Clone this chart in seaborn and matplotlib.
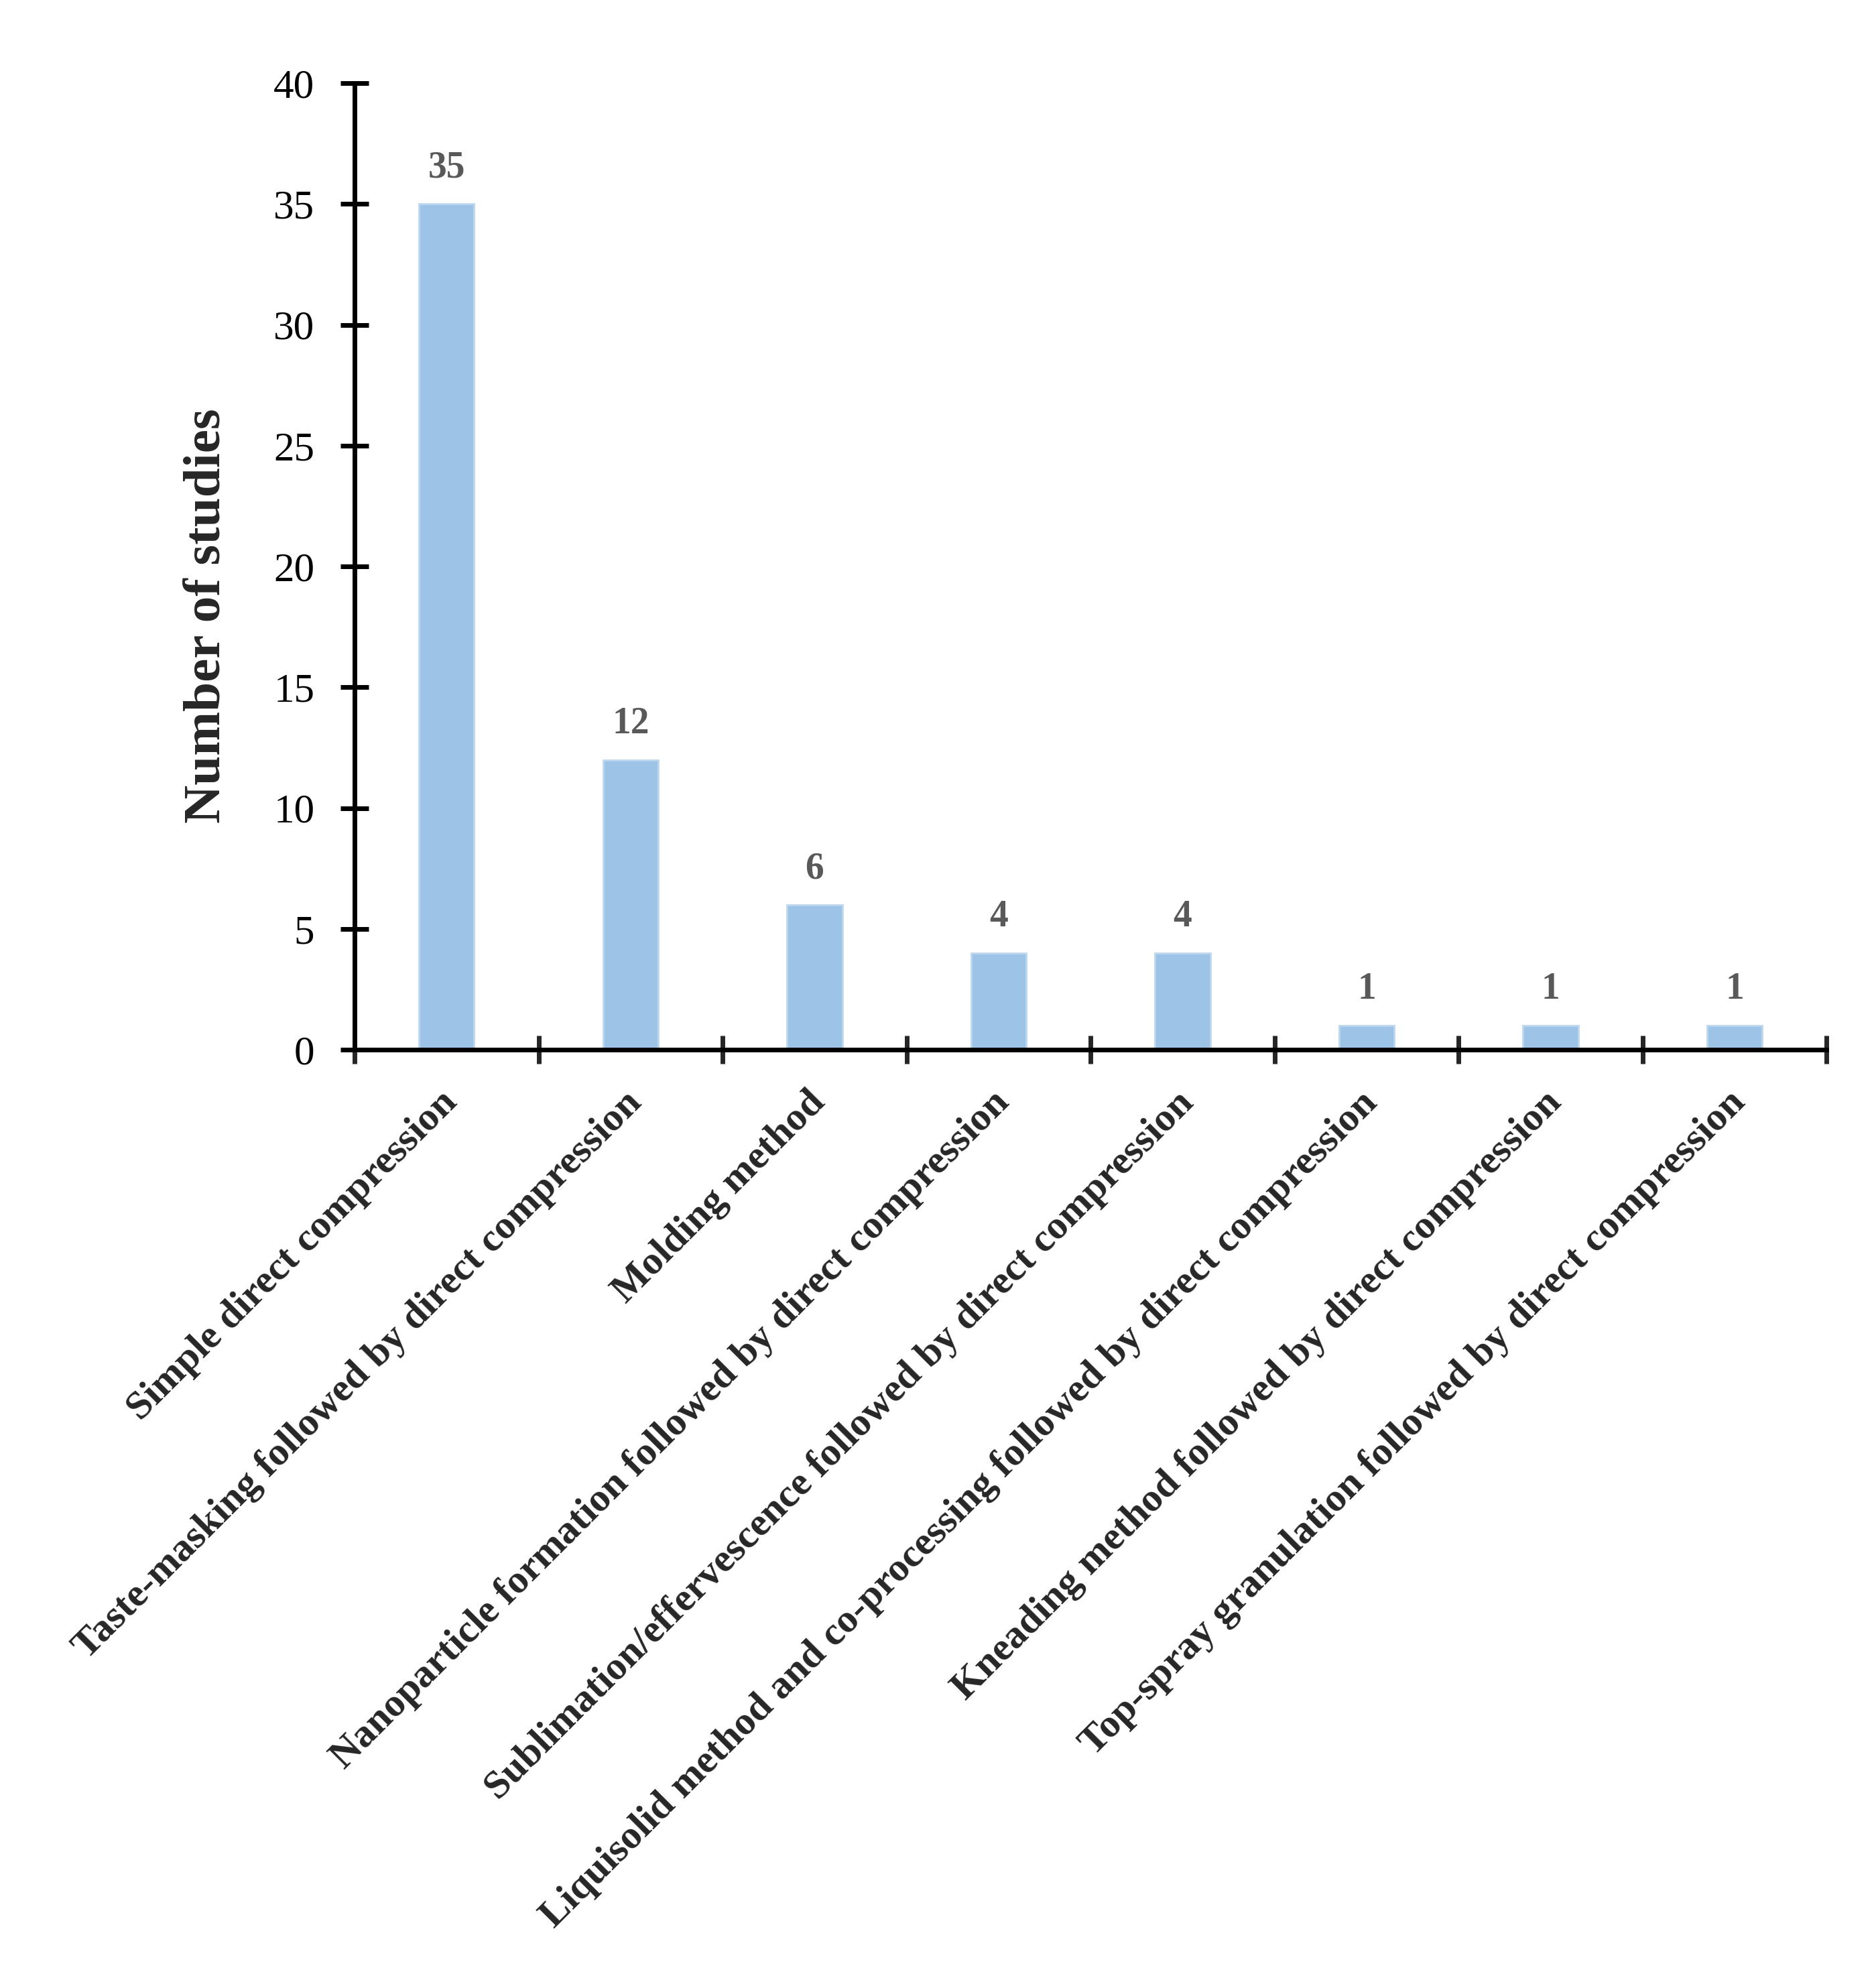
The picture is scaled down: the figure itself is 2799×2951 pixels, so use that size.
import numpy as np
import matplotlib
matplotlib.use("Agg")
import matplotlib.pyplot as plt
import matplotlib.transforms as mtransforms
import seaborn as sns

# data
methods = [
    "Simple direct compression",
    "Taste-masking followed by direct compression",
    "Molding method",
    "Nanoparticle formation followed by direct compression",
    "Sublimation/effervescence followed by direct compression",
    "Liquisolid method and co-processing followed by direct compression",
    "Kneading method followed by direct compression",
    "Top-spray granulation followed by direct compression",
]
n_studies = [35, 12, 6, 4, 4, 1, 1, 1]
y_ticks = [0, 5, 10, 15, 20, 25, 30, 35, 40]

sns.set_style("white")
plt.rcParams['font.family'] = ['Liberation Serif', 'DejaVu Serif']

fig = plt.figure(figsize=(27.99, 29.51), dpi=100)
ax = fig.add_axes([0.189, 0.4693, 0.7847, 0.4886])

sns.barplot(x=methods, y=n_studies, color="#9DC3E6", saturation=1,
            width=0.30, edgecolor="#BDD7EE", linewidth=2, ax=ax)

ax.set_xlim(-0.5, len(methods) - 0.5)
ax.set_ylim(0, 40)
ax.set_yticks(y_ticks)

# value labels above bars
ax.bar_label(ax.containers[0], padding=20, fontsize=40, color="#595959",
             fontweight="bold")

for side in ["top", "right"]:
    ax.spines[side].set_visible(False)
for side in ["left", "bottom"]:
    ax.spines[side].set_linewidth(5)
    ax.spines[side].set_color("black")

ax.tick_params(axis="y", which="major", left=True, direction="inout", length=30,
               width=5, labelsize=44, pad=28, colors="black")
ax.set_xticks(np.arange(-0.5, len(methods), 1), minor=True)
ax.tick_params(axis="x", which="minor", bottom=True, direction="inout",
               length=30, width=5)
ax.tick_params(axis="x", which="major", length=0, labelsize=43, pad=51)
# nudge the rotated labels a little to the right
shift = mtransforms.ScaledTranslation(8 / 100, 0, fig.dpi_scale_trans)
for lab in ax.get_xticklabels():
    lab.set_rotation(45)
    lab.set_ha("right")
    lab.set_va("center")
    lab.set_rotation_mode("anchor")
    lab.set_fontweight("bold")
    lab.set_transform(lab.get_transform() + shift)

ax.set_ylabel("Number of studies", fontsize=57, fontweight="bold")
ax.yaxis.set_label_coords(-0.084, 0.449)

fig.savefig("out.png", dpi=100, facecolor="white")
